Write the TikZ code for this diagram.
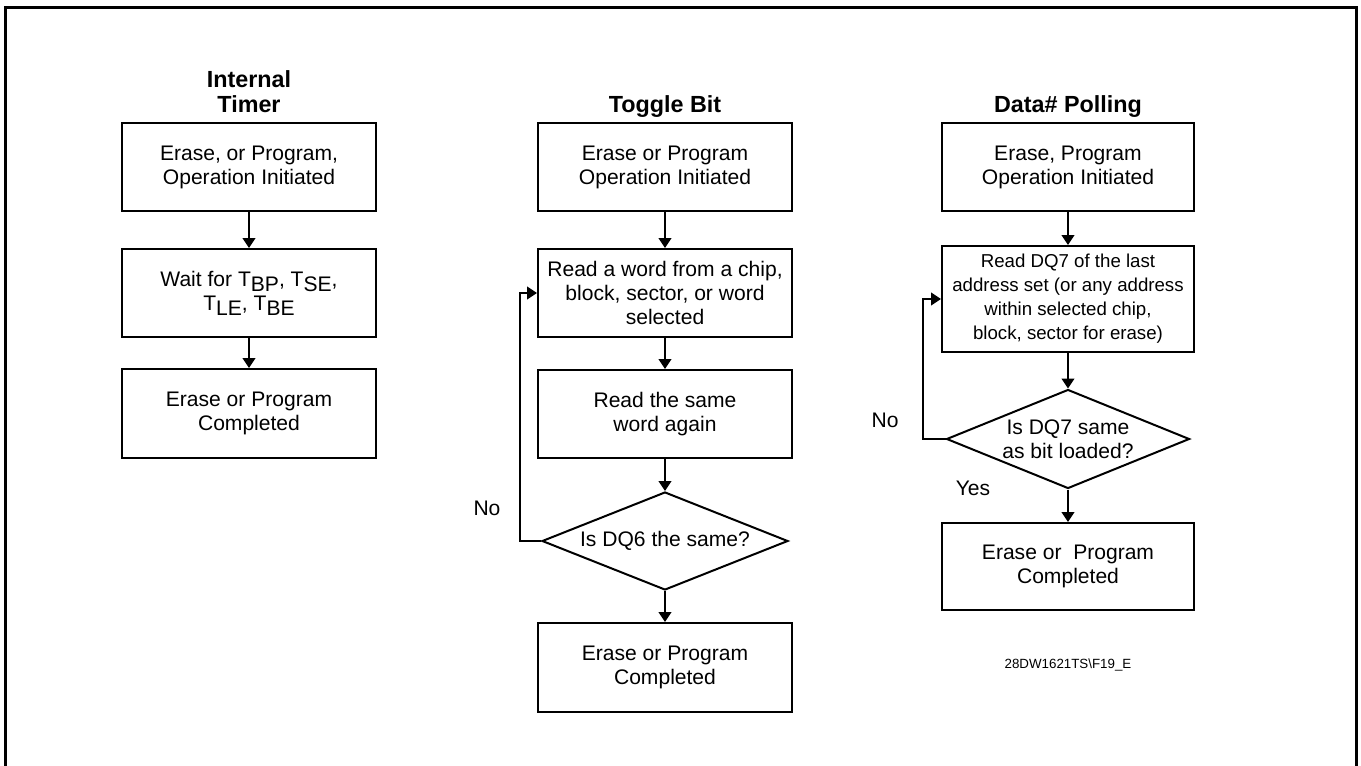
\documentclass[tikz,border=0pt]{standalone}
\usepackage{fontspec}
\setmainfont{Liberation Sans}
\usetikzlibrary{arrows.meta,shapes.geometric}
\newcommand\lowsub[1]{\raisebox{-0.25em}{#1}}
\begin{document}
\begin{tikzpicture}[x=0.75pt,y=-0.75pt,
  box/.style={draw, line width=1.5pt, minimum width=254*0.75pt, minimum height=88*0.75pt,
    inner sep=0pt, align=center, font=\fontsize{15.8}{18}\selectfont},
  dia/.style={draw, shape=diamond, line width=1.5pt, inner sep=0pt, aspect=2.5,
    align=center, font=\fontsize{15.8}{18}\selectfont},
  ttl/.style={font=\bfseries\fontsize{17.5}{18.75}\selectfont, align=center, anchor=base, inner sep=0pt},
  lbl/.style={font=\fontsize{15.8}{18}\selectfont, inner sep=0pt},
  arr/.style={line width=1.6pt, -{Triangle[length=7.5pt,width=9.5pt]}}
]
\useasboundingbox (0,0) rectangle (1361,765);
\begin{scope}
\clip (0,0) rectangle (1361,765);
\draw[line width=2.25pt] (5.5,7) rectangle (1356,790);
\end{scope}

% Column 1: Internal Timer
\node[ttl] (t1) at (249,112) {Internal\\Timer};
\node[box] (a1) at (249,167) {Erase, or Program,\\Operation Initiated};
\node[box] (a2) at (249,293) {Wait for T\lowsub{BP}, T\lowsub{SE},\\T\lowsub{LE}, T\lowsub{BE}};
\node[box, minimum height=89*0.75pt] (a3) at (249,413.5) {Erase or Program\\Completed};
\draw[arr] (a1) -- (a2);
\draw[arr] (a2) -- (a3);

% Column 2: Toggle Bit
\node[ttl] (t2) at (665,112) {Toggle Bit};
\node[box] (b1) at (665,167) {Erase or Program\\Operation Initiated};
\node[box] (b2) at (665,293) {Read a word from a chip,\\block, sector, or word\\selected};
\node[box] (b3) at (665,414) {Read the same\\word again};
\node[dia, minimum width=246*0.75pt, minimum height=98*0.75pt] (b4) at (665,541) {Is DQ6 the same?};
\node[box, minimum height=89*0.75pt] (b5) at (665,667.5) {Erase or Program\\Completed};
\draw[arr] (b1) -- (b2);
\draw[arr] (b2) -- (b3);
\draw[arr] (b3) -- (b4);
\draw[arr] (b4) -- (b5);
\coordinate (lb) at (520,541);
\draw[arr] (b4.west) -- (lb) |- (b2.west);
\node[lbl] (nob) at (487,508) {No};

% Column 3: Data# Polling
\node[ttl] (t3) at (1068,112) {Data\# Polling};
\node[box, minimum width=252*0.75pt] (c1) at (1068,167) {Erase, Program\\Operation Initiated};
\node[box, minimum width=252*0.75pt, minimum height=106*0.75pt, font=\fontsize{14}{18}\selectfont] (c2) at (1068,299)
  {Read DQ7 of the last\\address set (or any address\\within selected chip,\\block, sector for erase)};
\node[dia, aspect=2.45, minimum width=243*0.75pt, minimum height=99*0.75pt] (c3) at (1068,439) {Is DQ7 same\\as bit loaded?};
\node[box, minimum width=252*0.75pt, minimum height=87*0.75pt] (c4) at (1068,566.5) {Erase or~~Program\\Completed};
\draw[arr] (c1) -- (c2);
\draw[arr] (c2) -- (c3);
\draw[arr] (c3) -- (c4);
\coordinate (lc) at (923,439);
\draw[arr] (c3.west) -- (lc) |- (c2.west);
\node[lbl] (noc) at (885,420) {No};
\node[lbl] (yes) at (973,488) {Yes};

\node[font=\fontsize{10}{12}\selectfont, inner sep=0pt] (ref) at (1068,665) {28DW1621TS\textbackslash F19\_E};
\end{tikzpicture}
\end{document}
